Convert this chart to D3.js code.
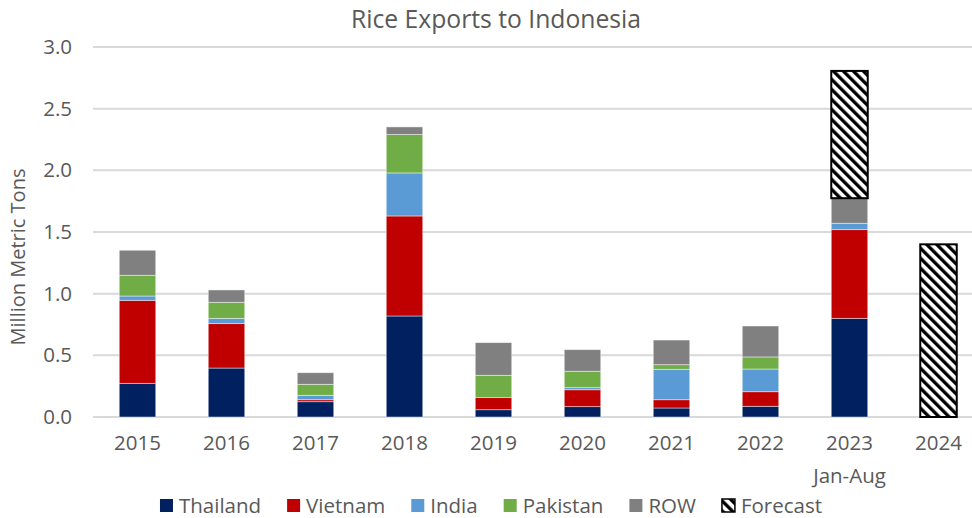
<!DOCTYPE html>
<html>
<head>
<meta charset="utf-8">
<script src="https://cdn.jsdelivr.net/npm/d3@7"></script>
<style>
  body { margin: 0; background: #fff; }
  svg { display: block; font-family: "Open Sans", sans-serif; }
</style>
</head>
<body>
<svg id="chart" width="972" height="518"></svg>
<script>
// values, million metric tons
const years    = ['2015', '2016', '2017', '2018', '2019', '2020', '2021', '2022', '2023', '2024'];
const subLabel = ['', '', '', '', '', '', '', '', 'Jan-Aug', ''];
const thailand = [0.273, 0.397, 0.124, 0.819, 0.059, 0.084, 0.073, 0.087, 0.800, 0];
const vietnam  = [0.673, 0.360, 0.016, 0.811, 0.098, 0.137, 0.067, 0.118, 0.719, 0];
const india    = [0.035, 0.043, 0.036, 0.349, 0.000, 0.017, 0.247, 0.184, 0.052, 0];
const pakistan = [0.168, 0.130, 0.089, 0.311, 0.181, 0.133, 0.037, 0.098, 0.000, 0];
const row      = [0.203, 0.100, 0.094, 0.062, 0.265, 0.175, 0.200, 0.251, 0.203, 0];
const forecast = [0, 0, 0, 0, 0, 0, 0, 0, 1.032, 1.400];
const yTicks   = [0, 0.5, 1.0, 1.5, 2.0, 2.5, 3.0];

const seriesNames = ['Thailand', 'Vietnam', 'India', 'Pakistan', 'ROW', 'Forecast'];
const seriesData  = [thailand, vietnam, india, pakistan, row, forecast];
const colors = {Thailand: '#002060', Vietnam: '#c00000', India: '#5b9bd5', Pakistan: '#70ad47', ROW: '#808080', Forecast: 'url(#hatch)'};

const textColor = '#595959';
const svg = d3.select('#chart');

// hatch for forecast bars
const defs = svg.append('defs');
const pat = defs.append('pattern')
    .attr('id', 'hatch')
    .attr('patternUnits', 'userSpaceOnUse')
    .attr('width', 7.07).attr('height', 7.07)
    .attr('patternTransform', 'rotate(-45)');
pat.append('rect').attr('width', 7.07).attr('height', 7.07).attr('fill', '#fff');
pat.append('rect').attr('width', 3.3).attr('height', 7.07).attr('fill', '#000');

const x = d3.scaleBand().domain(years).range([93, 983]).paddingInner(0.59).paddingOuter(0.295);
const y = d3.scaleLinear().domain([0, 3]).range([417, 47]);

// gridlines
svg.append('g')
    .selectAll('line')
    .data(yTicks)
    .join('line')
    .attr('x1', 93).attr('x2', 983)
    .attr('y1', d => y(d)).attr('y2', d => y(d))
    .attr('stroke', '#d9d9d9')
    .attr('stroke-width', 2);

// y axis
const yAxis = svg.append('g')
    .attr('transform', 'translate(93,0)')
    .call(d3.axisLeft(y).tickValues(yTicks).tickFormat(d3.format('.1f')).tickSize(0).tickPadding(21));
yAxis.select('.domain').remove();
yAxis.selectAll('text').attr('fill', textColor).attr('font-size', 20.5).attr('font-family', '"Open Sans", sans-serif');

// x axis
const xAxis = svg.append('g')
    .attr('transform', 'translate(0,417)')
    .call(d3.axisBottom(x).tickSize(0).tickPadding(18));
xAxis.select('.domain').remove();
xAxis.selectAll('text').attr('fill', textColor).attr('font-size', 20.5).attr('font-family', '"Open Sans", sans-serif');

svg.append('g')
    .selectAll('text')
    .data(years.filter((d, i) => subLabel[i]))
    .join('text')
    .attr('x', d => x(d) + x.bandwidth() / 2)
    .attr('y', 483)
    .attr('text-anchor', 'middle')
    .attr('fill', textColor)
    .attr('font-size', 20.5)
    .text(d => subLabel[years.indexOf(d)]);

// stacked bars
const table = years.map((yr, i) => {
    const o = {year: yr};
    seriesNames.forEach((s, k) => { o[s] = seriesData[k][i]; });
    return o;
});
const stack = d3.stack().keys(seriesNames)(table);

svg.append('g')
    .selectAll('g')
    .data(stack)
    .join('g')
    .attr('fill', d => colors[d.key])
    .attr('stroke', d => d.key === 'Forecast' ? '#000' : 'rgba(255,255,255,0.55)')
    .attr('stroke-width', d => d.key === 'Forecast' ? 2 : 0.8)
    .selectAll('rect')
    .data(d => d.filter(p => p[1] - p[0] > 0))
    .join('rect')
    .attr('x', d => x(d.data.year))
    .attr('width', x.bandwidth())
    .attr('y', d => y(d[1]))
    .attr('height', d => y(d[0]) - y(d[1]));

// title
svg.append('text')
    .attr('x', 496)
    .attr('y', 28)
    .attr('text-anchor', 'middle')
    .attr('fill', textColor)
    .attr('font-size', 24.7)
    .text('Rice Exports to Indonesia');

// y axis title
svg.append('text')
    .attr('transform', 'translate(25,257) rotate(-90)')
    .attr('text-anchor', 'middle')
    .attr('fill', textColor)
    .attr('font-size', 20)
    .text('Million Metric Tons');

// legend
const legend = svg.append('g').attr('transform', 'translate(0,513)');
let lx = 0;
const items = legend.selectAll('g')
    .data(seriesNames)
    .join('g');
items.append('rect')
    .attr('y', -14).attr('width', 13).attr('height', 13)
    .attr('fill', d => colors[d])
    .attr('stroke', d => d === 'Forecast' ? '#000' : 'none')
    .attr('stroke-width', 1.5);
items.append('text')
    .attr('x', 19)
    .attr('fill', textColor)
    .attr('font-size', 20.5)
    .text(d => d);
items.each(function() {
    const g = d3.select(this);
    g.attr('transform', 'translate(' + lx + ',0)');
    lx += 19 + g.select('text').node().getComputedTextLength() + 26;
});
legend.attr('transform', 'translate(' + (491 - (lx - 26) / 2) + ',513)');
</script>
</body>
</html>
